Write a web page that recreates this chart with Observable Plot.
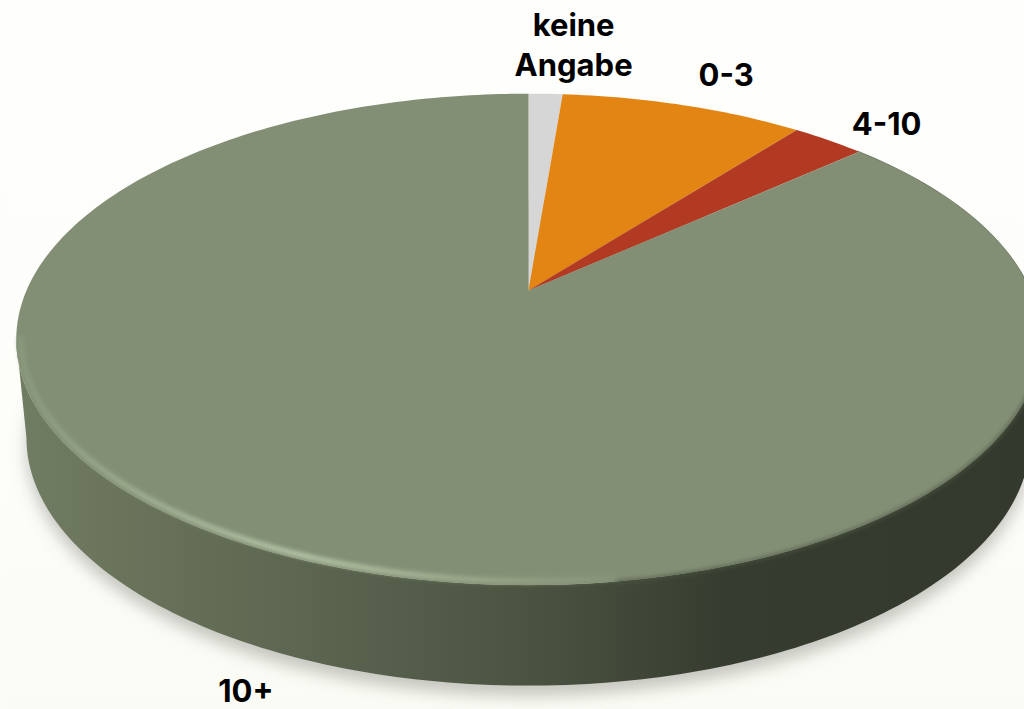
<!DOCTYPE html>
<html>
<head>
<meta charset="utf-8">
<script src="https://cdn.jsdelivr.net/npm/d3@7"></script>
<script src="https://cdn.jsdelivr.net/npm/@observablehq/plot@0.6"></script>
<style>html,body{margin:0;padding:0;overflow:hidden;background:#fdfdfa}svg{display:block}</style>
</head>
<body>
<div id="chart"></div>
<script>
const categories = ["keine Angabe", "0-3", "4-10", "10+"];
const values = [1.3, 9.3, 2.8, 86.6];
const colors = ["#d6d6d6", "#e38512", "#b23a23", "#838f75"];
const labels = ["keine\nAngabe", "0-3", "4-10", "10+"];
const labelDx = [28, 43, 58, -32];
const labelDy = [-51, -32, -18, 136];

// Perspective disc: k = foreshortening, H/R = plane scale, y0 = apex height
const disc = {cx: 528, y0: 290, R: 502, H: 236, k: 0.199};
const base = {cx: 528, y0: 388, R: 492, H: 238, k: 0.199};
const project = (p, deg) => {
  const a = deg * Math.PI / 180, u = Math.sin(a), v = Math.cos(a), w = 1 + p.k * v;
  return {x: p.cx + p.R * u / w, y: p.y0 - p.H * v / w};
};
const arc = (p, from, to) => {
  const n = Math.max(2, Math.ceil(Math.abs(to - from))), out = [];
  for (let i = 0; i <= n; i++) out.push(project(p, from + (to - from) * i / n));
  return out;
};

const total = d3.sum(values);
let acc = 0;
const slices = categories.map((c, i) => {
  const from = acc / total * 360; acc += values[i];
  const to = acc / total * 360;
  return {c, i, from, to, mid: (from + to) / 2};
});
const pieFaces = slices.flatMap(s => [
  {c: s.c, x: disc.cx, y: disc.y0},
  ...arc(disc, s.from, s.to).map(p => ({c: s.c, ...p}))
]);
const labelRows = slices.map(s => {
  const p = project(disc, s.mid);
  return {x: p.x + labelDx[s.i], y: p.y + labelDy[s.i], text: labels[s.i]};
});
const wall = [...arc(disc, 101.5, 258.5), ...arc(base, 258.5, 101.5)];
const baseOutline = arc(base, 0, 360);
const rimLight = arc({...disc, y0: disc.y0 - 3, R: disc.R - 4, H: disc.H - 1}, 258, 172);
const rimDark = arc({...disc, y0: disc.y0 + 0.5}, 172, 98);
const topEdge = arc(disc, 48, 98);

const defs = () => d3.create("svg:defs").html(`
  <linearGradient id="bg" x1="0" y1="0" x2="0" y2="1">
    <stop offset="0" stop-color="#fefefd"/><stop offset="0.55" stop-color="#fdfdfa"/><stop offset="1" stop-color="#fbfbf5"/>
  </linearGradient>
  <linearGradient id="wallFill" gradientUnits="userSpaceOnUse" x1="16" y1="0" x2="1030" y2="0">
    <stop offset="0" stop-color="#707d63"/><stop offset="0.1" stop-color="#6a745b"/>
    <stop offset="0.25" stop-color="#5f6852"/><stop offset="0.4" stop-color="#535c49"/>
    <stop offset="0.55" stop-color="#474e3d"/><stop offset="0.7" stop-color="#363c2f"/>
    <stop offset="1" stop-color="#33392d"/>
  </linearGradient>
  <linearGradient id="rimFill" gradientUnits="userSpaceOnUse" x1="16" y1="0" x2="640" y2="0">
    <stop offset="0" stop-color="#8a9a7c"/><stop offset="0.22" stop-color="#a3b294"/>
    <stop offset="0.45" stop-color="#b8c9a9"/><stop offset="0.8" stop-color="#98a385"/>
    <stop offset="1" stop-color="#838f75"/>
  </linearGradient>
  <filter id="blurShadow" x="-10%" y="-10%" width="120%" height="120%"><feGaussianBlur stdDeviation="8"/></filter>
  <filter id="blurRim" x="-5%" y="-5%" width="110%" height="110%"><feGaussianBlur stdDeviation="2"/></filter>
`).node();
const withFilter = id => function (index, scales, vals, dims, ctx, next) {
  const g = next(index, scales, vals, dims, ctx);
  g.setAttribute("filter", `url(#${id})`);
  return g;
};

const chart = Plot.plot({
  width: 1024, height: 709, margin: 0,
  style: {background: "transparent"},
  x: {domain: [0, 1024], range: [0, 1024], axis: null},
  y: {domain: [0, 709], range: [0, 709], axis: null},
  color: {type: "ordinal", domain: categories, range: colors},
  marks: [
    defs,
    Plot.frame({fill: "url(#bg)"}),
    Plot.line(baseOutline, {x: "x", y: d => d.y + 10, fill: "#8f8f88", fillOpacity: 0.5, stroke: "none", render: withFilter("blurShadow")}),
    Plot.line(wall, {x: "x", y: "y", fill: "url(#wallFill)", stroke: "none"}),
    Plot.line(pieFaces, {x: "x", y: "y", z: "c", fill: "c", stroke: "none"}),
    Plot.line(rimDark, {x: "x", y: "y", stroke: "#4c5443", strokeWidth: 2.5, render: withFilter("blurRim")}),
    Plot.line(rimLight, {x: "x", y: "y", stroke: "url(#rimFill)", strokeWidth: 5, render: withFilter("blurRim")}),
    Plot.line(topEdge, {x: "x", y: "y", stroke: "#5c6552", strokeWidth: 1, strokeOpacity: 0.7}),
    Plot.text(labelRows, {
      x: "x", y: "y", text: "text",
      fontFamily: "Inter", fontWeight: 700, fontSize: 31, lineHeight: 1.29, fill: "#000"
    })
  ]
});
document.getElementById("chart").append(chart);
</script>
</body>
</html>
